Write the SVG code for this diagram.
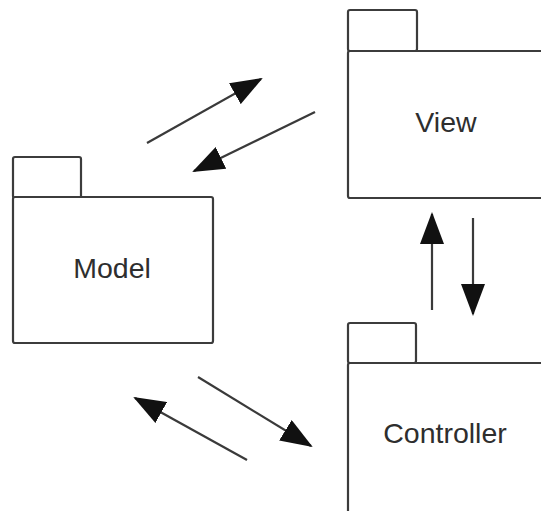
<svg xmlns="http://www.w3.org/2000/svg" width="541" height="511" viewBox="0 0 541 511">
  <style>
    .pkg { fill: #ffffff; stroke: #3c3c3c; stroke-width: 2.2; stroke-linejoin: round; }
    .label { font-family: "Liberation Sans", Arial, sans-serif; font-size: 28.5px; fill: #2e2e2e; text-anchor: middle; }
    .conn { stroke: #3a3a3a; stroke-width: 2.2; fill: none; marker-end: url(#head); }
  </style>
  <defs>
    <marker id="head" viewBox="0 0 32 24" refX="30" refY="12" markerWidth="32" markerHeight="24" markerUnits="userSpaceOnUse" orient="auto">
      <path d="M0,0 L32,12 L0,24 Z" fill="#111111"/>
    </marker>
  </defs>
  <rect width="541" height="511" fill="#ffffff"/>

  <!-- Model package -->
  <g id="model">
    <rect class="pkg" x="13" y="157" width="68" height="41" rx="2"/>
    <rect class="pkg" x="13" y="197" width="200" height="146" rx="2"/>
    <text class="label" x="112" y="278">Model</text>
  </g>

  <!-- View package -->
  <g id="view">
    <rect class="pkg" x="348" y="10" width="69" height="41" rx="2"/>
    <rect class="pkg" x="348" y="51" width="210" height="147" rx="2"/>
    <text class="label" x="446" y="132">View</text>
  </g>

  <!-- Controller package -->
  <g id="controller">
    <rect class="pkg" x="348" y="323" width="68" height="40" rx="2"/>
    <rect class="pkg" x="348" y="363" width="210" height="160" rx="2"/>
    <text class="label" x="445" y="443">Controller</text>
  </g>

  <!-- Connectors -->
  <g id="connectors">
    <line class="conn" x1="147" y1="143" x2="261" y2="79"/>
    <line class="conn" x1="315" y1="112" x2="194" y2="171"/>
    <line class="conn" x1="198" y1="377" x2="311" y2="446"/>
    <line class="conn" x1="247" y1="460" x2="135" y2="398"/>
    <line class="conn" x1="432" y1="310" x2="432" y2="214"/>
    <line class="conn" x1="473" y1="218" x2="473" y2="314"/>
  </g>
</svg>
